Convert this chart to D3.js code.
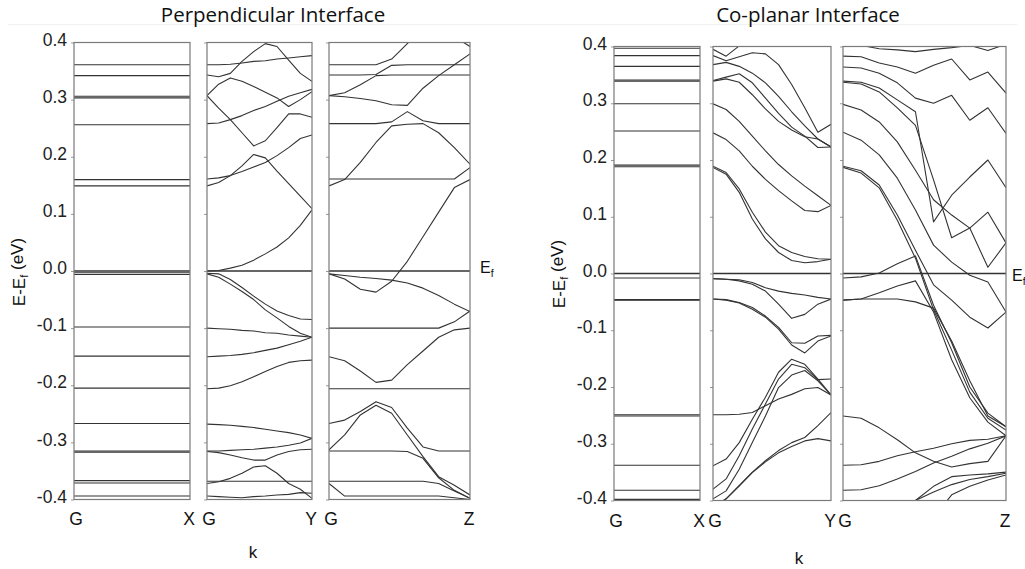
<!DOCTYPE html>
<html>
<head>
<meta charset="utf-8">
<script src="https://cdn.jsdelivr.net/npm/d3@7"></script>
<style>
  body { margin: 0; background: #fff; }
  svg { display: block; }
</style>
</head>
<body>
<svg id="chart" width="1025" height="569"></svg>
<script>
////////////////////////////////////////////////////////////////////////
// Data: band energies (eV, relative to Ef).
// Each dispersive band has 10 samples along k (G -> X/Y/Z).

const kIndex = d3.range(10);
const yTickValues = [-0.4, -0.3, -0.2, -0.1, 0.0, 0.1, 0.2, 0.3, 0.4];
const yTickLabels = ["-0.4", "-0.3", "-0.2", "-0.1", "0.0", "0.1", "0.2", "0.3", "0.4"];
const pathLabels = [["G", "X"], ["G", "Y"], ["G", "Z"]];
const chartTitles = ["Perpendicular Interface", "Co-planar Interface"];

// --- Perpendicular interface ---
// G-X: flat bands
const perpGX = [0.361, 0.342, 0.306, 0.303, 0.256, 0.160, 0.149, -0.003, -0.006,
  -0.098, -0.149, -0.205, -0.267, -0.315, -0.317, -0.367, -0.371, -0.394];

// G-Y
const perpGY = [
  [0.361, 0.361, 0.362, 0.364, 0.367, 0.368, 0.371, 0.373, 0.375, 0.377],
  [0.343, 0.340, 0.346, 0.367, 0.384, 0.398, 0.393, 0.369, 0.346, 0.332],
  [0.307, 0.327, 0.338, 0.332, 0.323, 0.313, 0.303, 0.288, 0.300, 0.314],
  [0.307, 0.285, 0.265, 0.242, 0.219, 0.228, 0.251, 0.275, 0.275, 0.269],
  [0.258, 0.259, 0.265, 0.272, 0.281, 0.288, 0.297, 0.306, 0.312, 0.318],
  [0.161, 0.163, 0.167, 0.174, 0.182, 0.190, 0.202, 0.216, 0.232, 0.238],
  [0.149, 0.155, 0.167, 0.184, 0.204, 0.198, 0.175, 0.153, 0.131, 0.109],
  [0.000, 0.001, 0.005, 0.010, 0.019, 0.030, 0.042, 0.058, 0.080, 0.107],
  [-0.004, -0.005, -0.015, -0.029, -0.044, -0.058, -0.070, -0.078, -0.084, -0.085],
  [-0.005, -0.011, -0.023, -0.036, -0.050, -0.068, -0.082, -0.097, -0.109, -0.116],
  [-0.100, -0.101, -0.102, -0.104, -0.105, -0.108, -0.109, -0.112, -0.114, -0.116],
  [-0.150, -0.149, -0.148, -0.146, -0.143, -0.139, -0.135, -0.129, -0.123, -0.116],
  [-0.206, -0.205, -0.201, -0.194, -0.185, -0.176, -0.167, -0.160, -0.157, -0.156],
  [-0.268, -0.269, -0.270, -0.272, -0.274, -0.277, -0.280, -0.283, -0.287, -0.293],
  [-0.315, -0.315, -0.314, -0.313, -0.312, -0.310, -0.308, -0.305, -0.301, -0.293],
  [-0.316, -0.318, -0.322, -0.327, -0.331, -0.331, -0.322, -0.316, -0.313, -0.312],
  [-0.372, -0.369, -0.363, -0.354, -0.343, -0.341, -0.354, -0.372, -0.382, -0.398],
  [-0.368, -0.368, -0.368, -0.368, -0.368, -0.368, -0.368, -0.368, -0.368, -0.368],
  [-0.394, -0.395, -0.396, -0.397, -0.395, -0.394, -0.392, -0.391, -0.388, -0.389]
];

// G-Z
const perpGZ = [
  [0.361, 0.361, 0.361, 0.361, 0.371, 0.398, 0.425, 0.430, 0.410, 0.393],
  [0.343, 0.343, 0.343, 0.344, 0.360, 0.361, 0.361, 0.361, 0.361, 0.361],
  [0.307, 0.312, 0.326, 0.342, 0.343, 0.343, 0.343, 0.343, 0.343, 0.343],
  [0.307, 0.305, 0.302, 0.298, 0.291, 0.290, 0.320, 0.342, 0.361, 0.380],
  [0.258, 0.258, 0.258, 0.258, 0.261, 0.279, 0.263, 0.258, 0.258, 0.258],
  [0.161, 0.161, 0.161, 0.161, 0.161, 0.161, 0.161, 0.161, 0.161, 0.181],
  [0.149, 0.160, 0.190, 0.225, 0.254, 0.257, 0.258, 0.242, 0.216, 0.187],
  [-0.005, -0.014, -0.032, -0.037, -0.018, 0.017, 0.060, 0.103, 0.146, 0.160],
  [-0.005, -0.008, -0.011, -0.013, -0.016, -0.021, -0.030, -0.043, -0.058, -0.071],
  [-0.100, -0.100, -0.100, -0.100, -0.100, -0.100, -0.100, -0.100, -0.089, -0.070],
  [-0.150, -0.157, -0.175, -0.195, -0.191, -0.164, -0.140, -0.116, -0.103, -0.100],
  [-0.206, -0.206, -0.206, -0.206, -0.206, -0.206, -0.206, -0.206, -0.206, -0.206],
  [-0.267, -0.261, -0.246, -0.229, -0.239, -0.275, -0.308, -0.315, -0.315, -0.315],
  [-0.313, -0.287, -0.252, -0.235, -0.249, -0.287, -0.325, -0.360, -0.375, -0.392],
  [-0.315, -0.315, -0.315, -0.315, -0.315, -0.316, -0.328, -0.362, -0.384, -0.398],
  [-0.368, -0.368, -0.368, -0.368, -0.368, -0.368, -0.368, -0.372, -0.385, -0.398],
  [-0.372, -0.394, -0.394, -0.394, -0.394, -0.394, -0.394, -0.394, -0.397, -0.400]
];

// --- Co-planar interface ---
const coplGX = [0.397, 0.384, 0.365, 0.341, 0.339, 0.299, 0.251, 0.191, 0.188,
  -0.008, -0.046, -0.047, -0.249, -0.251, -0.338, -0.382, -0.398];

const coplGY = [
  [0.395, 0.383, 0.401, 0.420, 0.440, 0.450, 0.450, 0.450, 0.450, 0.450],
  [0.384, 0.375, 0.382, 0.389, 0.387, 0.368, 0.333, 0.292, 0.249, 0.263],
  [0.368, 0.372, 0.365, 0.353, 0.336, 0.312, 0.285, 0.260, 0.237, 0.223],
  [0.340, 0.346, 0.352, 0.336, 0.309, 0.282, 0.258, 0.242, 0.222, 0.223],
  [0.339, 0.343, 0.337, 0.315, 0.290, 0.268, 0.253, 0.241, 0.237, 0.223],
  [0.299, 0.289, 0.268, 0.242, 0.216, 0.192, 0.172, 0.154, 0.137, 0.120],
  [0.248, 0.236, 0.216, 0.189, 0.166, 0.146, 0.128, 0.111, 0.109, 0.120],
  [0.189, 0.178, 0.149, 0.108, 0.073, 0.049, 0.037, 0.030, 0.026, 0.025],
  [0.187, 0.175, 0.143, 0.096, 0.061, 0.037, 0.023, 0.019, 0.021, 0.025],
  [-0.009, -0.010, -0.011, -0.016, -0.025, -0.031, -0.035, -0.038, -0.042, -0.045],
  [-0.009, -0.010, -0.013, -0.019, -0.031, -0.054, -0.079, -0.072, -0.054, -0.045],
  [-0.045, -0.046, -0.051, -0.060, -0.075, -0.095, -0.122, -0.123, -0.110, -0.109],
  [-0.045, -0.047, -0.052, -0.063, -0.077, -0.098, -0.126, -0.140, -0.119, -0.110],
  [-0.249, -0.249, -0.248, -0.245, -0.233, -0.221, -0.213, -0.203, -0.201, -0.214],
  [-0.339, -0.327, -0.298, -0.257, -0.218, -0.174, -0.151, -0.160, -0.186, -0.214],
  [-0.380, -0.362, -0.321, -0.274, -0.230, -0.186, -0.160, -0.166, -0.187, -0.186],
  [-0.397, -0.383, -0.345, -0.298, -0.251, -0.201, -0.179, -0.171, -0.189, -0.214],
  [-0.412, -0.397, -0.374, -0.350, -0.330, -0.312, -0.298, -0.289, -0.268, -0.245],
  [-0.412, -0.397, -0.374, -0.351, -0.332, -0.316, -0.305, -0.295, -0.291, -0.295]
];

const coplGZ = [
  [0.402, 0.402, 0.396, 0.394, 0.391, 0.395, 0.398, 0.402, 0.393, 0.404],
  [0.383, 0.382, 0.371, 0.364, 0.353, 0.367, 0.378, 0.341, 0.355, 0.318],
  [0.364, 0.362, 0.353, 0.336, 0.309, 0.300, 0.314, 0.270, 0.292, 0.247],
  [0.339, 0.337, 0.327, 0.306, 0.285, 0.091, 0.138, 0.170, 0.200, 0.151],
  [0.337, 0.334, 0.320, 0.292, 0.261, 0.165, 0.063, 0.080, 0.108, 0.054],
  [0.298, 0.288, 0.267, 0.232, 0.182, 0.130, 0.103, 0.080, 0.011, 0.054],
  [0.249, 0.235, 0.209, 0.168, 0.112, 0.050, 0.020, -0.003, -0.015, -0.068],
  [0.189, 0.181, 0.156, 0.103, 0.041, -0.020, -0.047, -0.077, -0.096, -0.068],
  [0.187, 0.177, 0.151, 0.094, 0.027, -0.064, -0.135, -0.209, -0.255, -0.276],
  [-0.008, -0.006, 0.001, 0.017, 0.031, -0.056, -0.122, -0.200, -0.246, -0.270],
  [-0.047, -0.045, -0.034, -0.022, -0.013, -0.068, -0.152, -0.219, -0.262, -0.286],
  [-0.047, -0.045, -0.045, -0.045, -0.050, -0.061, -0.119, -0.189, -0.251, -0.270],
  [-0.251, -0.255, -0.272, -0.293, -0.316, -0.331, -0.341, -0.335, -0.331, -0.286],
  [-0.338, -0.337, -0.331, -0.321, -0.314, -0.308, -0.300, -0.294, -0.292, -0.286],
  [-0.382, -0.381, -0.374, -0.362, -0.349, -0.334, -0.322, -0.309, -0.299, -0.286],
  [-0.450, -0.450, -0.450, -0.440, -0.400, -0.375, -0.358, -0.355, -0.353, -0.350],
  [-0.450, -0.450, -0.450, -0.440, -0.400, -0.385, -0.372, -0.363, -0.358, -0.352],
  [-0.450, -0.450, -0.450, -0.450, -0.450, -0.430, -0.390, -0.375, -0.364, -0.355]
];

////////////////////////////////////////////////////////////////////////
// Drawing

const svg = d3.select("#chart");
const labelFont = "'Liberation Sans', Arial, sans-serif";
const titleFont = "'Open Sans', 'Noto Sans', sans-serif";

// faint rule under the titles
svg.append("line")
  .attr("x1", 8).attr("x2", 1017).attr("y1", 24.5).attr("y2", 24.5)
  .attr("stroke", "#f1f1f1");

let clipCount = 0;

function drawChart(cfg) {
  const g = svg.append("g");

  const yScale = d3.scaleLinear()
    .domain([-0.4, 0.4])
    .range(cfg.yRange);

  // title
  g.append("text")
    .attr("x", cfg.titleX).attr("y", 22)
    .attr("text-anchor", "middle")
    .attr("font-family", titleFont)
    .attr("font-size", "20.5px")
    .attr("fill", "#111")
    .text(cfg.title);

  cfg.panels.forEach((p, i) => {
    const xScale = d3.scaleLinear()
      .domain([0, kIndex.length - 1])
      .range([p.x0, p.x1]);

    const pg = g.append("g");
    const clipId = "clip" + (clipCount++);
    pg.append("clipPath").attr("id", clipId)
      .append("rect")
      .attr("x", p.x0).attr("y", cfg.yRange[1])
      .attr("width", p.x1 - p.x0)
      .attr("height", cfg.yRange[0] - cfg.yRange[1]);

    // left axis ticks (labels only on first panel)
    const axis = d3.axisLeft(yScale)
      .tickValues(yTickValues)
      .tickSize(3)
      .tickPadding(4)
      .tickFormat((d, j) => i === 0 ? yTickLabels[j] : "");
    const ax = pg.append("g")
      .attr("transform", `translate(${p.x0},0)`)
      .call(axis);
    ax.select(".domain").remove();
    ax.selectAll("line").attr("stroke", "#999");
    ax.selectAll("text")
      .attr("font-family", labelFont)
      .attr("font-size", "17.5px")
      .attr("fill", "#222")
      .attr("dy", "0.15em");

    const bandG = pg.append("g").attr("clip-path", `url(#${clipId})`);

    // Fermi level
    bandG.append("line")
      .attr("x1", p.x0).attr("x2", p.x1)
      .attr("y1", yScale(0)).attr("y2", yScale(0))
      .attr("stroke", "#333").attr("stroke-width", 1.3);

    const lineGen = d3.line()
      .x((d, j) => xScale(kIndex[j]))
      .y(d => yScale(d));

    if (p.flat) {
      bandG.selectAll("line.flat")
        .data(p.flat)
        .join("line")
        .attr("class", "flat")
        .attr("x1", p.x0).attr("x2", p.x1)
        .attr("y1", d => yScale(d)).attr("y2", d => yScale(d))
        .attr("stroke", "#333").attr("stroke-width", 1.1);
    }
    if (p.bands) {
      bandG.selectAll("path.band")
        .data(p.bands)
        .join("path")
        .attr("class", "band")
        .attr("d", lineGen)
        .attr("fill", "none")
        .attr("stroke", "#333")
        .attr("stroke-width", 1.1)
        .attr("stroke-linejoin", "round");
    }

    // panel frame
    pg.append("rect")
      .attr("x", p.x0).attr("y", cfg.yRange[1])
      .attr("width", p.x1 - p.x0)
      .attr("height", cfg.yRange[0] - cfg.yRange[1])
      .attr("fill", "none")
      .attr("stroke", "#7a7a7a")
      .attr("stroke-width", 1.2);

    // k-point labels
    const kl = pathLabels[i];
    pg.selectAll("text.kp")
      .data([[p.x0 + 2, kl[0]], [p.x1 - 1, kl[1]]])
      .join("text")
      .attr("class", "kp")
      .attr("x", d => d[0]).attr("y", cfg.kLabelY)
      .attr("text-anchor", "middle")
      .attr("font-family", labelFont)
      .attr("font-size", "17.5px")
      .attr("fill", "#111")
      .text(d => d[1]);
  });

  // "k" axis title
  g.append("text")
    .attr("x", cfg.kTitle[0]).attr("y", cfg.kTitle[1])
    .attr("text-anchor", "middle")
    .attr("font-family", labelFont)
    .attr("font-size", "17px")
    .attr("fill", "#111")
    .text("k");

  // y axis title: E-Ef (eV)
  const yl = g.append("text")
    .attr("transform", `translate(${cfg.yTitle[0]},${cfg.yTitle[1]}) rotate(-90)`)
    .attr("text-anchor", "middle")
    .attr("font-family", labelFont)
    .attr("font-size", "17px")
    .attr("fill", "#111");
  yl.append("tspan").text("E-E");
  yl.append("tspan").attr("font-size", "11px").attr("dy", "0.3em").text("f");
  yl.append("tspan").attr("dy", "-0.3em").text(" (eV)");

  // Ef marker
  const ef = g.append("text")
    .attr("x", cfg.efLabel[0]).attr("y", cfg.efLabel[1])
    .attr("font-family", labelFont)
    .attr("font-size", "16px")
    .attr("fill", "#111");
  ef.append("tspan").text("E");
  ef.append("tspan").attr("font-size", "10.5px").attr("dy", "0.35em").text("f");
}

drawChart({
  title: chartTitles[0],
  titleX: 273,
  yRange: [499.5, 42.5],
  panels: [
    { x0: 74, x1: 190, flat: perpGX },
    { x0: 207, x1: 312, bands: perpGY },
    { x0: 329, x1: 470, bands: perpGZ }
  ],
  kLabelY: 525,
  kTitle: [253, 558],
  yTitle: [25, 272],
  efLabel: [480, 273]
});

drawChart({
  title: chartTitles[1],
  titleX: 808,
  yRange: [500.5, 46.5],
  panels: [
    { x0: 614, x1: 700, flat: coplGX },
    { x0: 713, x1: 831, bands: coplGY },
    { x0: 843, x1: 1006, bands: coplGZ }
  ],
  kLabelY: 527,
  kTitle: [799, 564],
  yTitle: [565, 274],
  efLabel: [1012, 281]
});
</script>
</body>
</html>
